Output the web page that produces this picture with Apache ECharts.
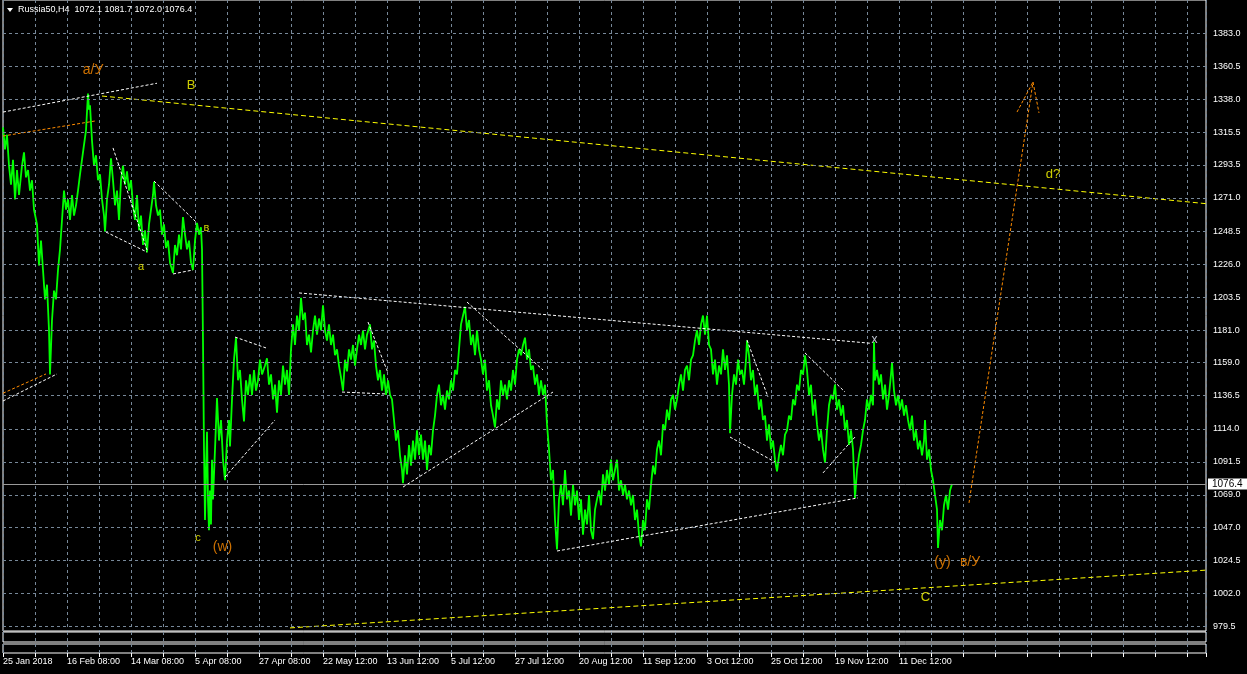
<!DOCTYPE html>
<html><head><meta charset="utf-8">
<script src="https://cdn.jsdelivr.net/npm/echarts@6/dist/echarts.min.js"></script>
<style>html,body{margin:0;padding:0;background:#000;}#c{width:1247px;height:674px;}</style>
</head><body><div id="c"></div>
<script>
// ---- data ----
const symbolName = 'Russia50,H4';
const lastBarOHLC = [1072.1, 1081.7, 1072.0, 1076.4];
const timeLabels = ['25 Jan 2018','16 Feb 08:00','14 Mar 08:00','5 Apr 08:00','27 Apr 08:00','22 May 12:00','13 Jun 12:00','5 Jul 12:00','27 Jul 12:00','20 Aug 12:00','11 Sep 12:00','3 Oct 12:00','25 Oct 12:00','19 Nov 12:00','11 Dec 12:00'];
const barsPerLabel = 64;
const barsPerGrid = 32;
const priceTicks = [979.5,1002.0,1024.5,1047.0,1069.0,1091.5,1114.0,1136.5,1159.0,1181.0,1203.5,1226.0,1248.5,1271.0,1293.5,1315.5,1338.0,1360.5,1383.0];
// [bar index, price] along the H4 price trace
const pricePath = [[0,1319],[2,1304],[4,1314],[6,1293],[8,1280],[10,1297],[12,1270],[14,1290],[16,1273],[19,1293],[21,1302],[23,1285],[25,1290],[27,1276],[29,1283],[31,1263],[34,1253],[36,1225],[38,1242],[40,1222],[42,1202],[44,1212],[46,1181],[47,1151],[49,1188],[51,1208],[53,1202],[55,1222],[57,1236],[59,1256],[61,1276],[63,1263],[65,1270],[67,1256],[69,1273],[71,1259],[73,1266],[75,1276],[77,1287],[79,1297],[81,1307],[83,1317],[85,1342],[86,1331],[87,1334],[89,1310],[91,1293],[93,1300],[95,1283],[97,1287],[99,1270],[101,1259],[102,1248],[104,1270],[106,1280],[108,1298],[110,1283],[112,1266],[114,1276],[116,1256],[118,1283],[120,1293],[122,1280],[124,1289],[126,1276],[128,1283],[130,1266],[132,1256],[134,1273],[136,1249],[138,1259],[140,1239],[142,1249],[144,1234],[146,1253],[148,1263],[150,1273],[151,1282],[153,1266],[155,1259],[157,1263],[159,1246],[161,1253],[163,1237],[165,1242],[167,1227],[170,1220],[172,1239],[174,1232],[176,1246],[178,1236],[180,1258],[182,1246],[184,1236],[186,1242],[188,1227],[190,1222],[192,1242],[194,1254],[196,1246],[198,1251],[199,1236],[200,1173],[201,1100],[202,1052],[203,1086],[204,1112],[205,1066],[206,1045],[207,1072],[208,1049],[209,1093],[210,1066],[212,1100],[214,1135],[216,1106],[218,1120],[220,1093],[222,1079],[224,1106],[226,1120],[227,1102],[229,1134],[231,1161],[233,1176],[235,1147],[237,1154],[239,1134],[241,1119],[243,1147],[245,1137],[247,1151],[249,1137],[251,1154],[253,1140],[255,1147],[257,1161],[259,1151],[262,1157],[264,1162],[266,1144],[268,1151],[270,1134],[272,1144],[274,1125],[276,1147],[278,1137],[280,1157],[282,1144],[284,1154],[286,1137],[288,1168],[290,1185],[292,1171],[294,1191],[296,1181],[298,1203],[300,1188],[302,1193],[304,1171],[306,1178],[308,1166],[310,1181],[312,1191],[314,1178],[316,1189],[318,1181],[320,1198],[322,1181],[324,1174],[326,1185],[328,1171],[330,1178],[332,1164],[334,1168],[336,1157],[338,1149],[340,1140],[342,1161],[344,1153],[346,1168],[348,1161],[350,1171],[352,1157],[354,1168],[356,1178],[358,1171],[360,1181],[362,1168],[364,1178],[367,1185],[369,1168],[371,1174],[373,1157],[375,1147],[377,1154],[379,1140],[381,1151],[383,1137],[385,1147],[387,1137],[389,1134],[391,1120],[393,1106],[395,1113],[397,1096],[399,1086],[400,1077],[402,1096],[404,1083],[406,1103],[408,1089],[410,1106],[412,1093],[414,1113],[416,1096],[418,1110],[420,1093],[422,1106],[424,1086],[426,1103],[428,1096],[430,1113],[432,1123],[434,1137],[436,1144],[438,1130],[440,1137],[442,1127],[444,1140],[446,1134],[448,1147],[450,1140],[452,1154],[454,1151],[456,1168],[458,1185],[460,1191],[462,1197],[464,1181],[466,1188],[468,1171],[470,1178],[472,1164],[474,1181],[476,1168],[478,1161],[480,1151],[482,1161],[484,1140],[486,1147],[488,1130],[490,1123],[492,1115],[494,1134],[496,1127],[498,1147],[500,1137],[502,1144],[504,1134],[506,1147],[508,1140],[510,1154],[512,1144],[514,1161],[516,1168],[518,1164],[520,1171],[522,1176],[524,1161],[526,1168],[528,1154],[530,1157],[532,1144],[534,1151],[536,1137],[538,1147],[540,1137],[542,1144],[544,1117],[546,1100],[548,1079],[550,1086],[552,1052],[554,1032],[556,1066],[558,1076],[560,1062],[562,1086],[564,1066],[566,1072],[568,1055],[570,1076],[572,1062],[574,1072],[576,1052],[578,1066],[580,1042],[582,1059],[584,1049],[586,1069],[588,1045],[590,1039],[592,1059],[594,1066],[596,1072],[598,1062],[600,1083],[602,1072],[604,1086],[606,1076],[608,1093],[610,1079],[612,1086],[614,1093],[616,1072],[618,1079],[620,1069],[622,1076],[624,1066],[626,1072],[628,1062],[630,1069],[632,1052],[634,1059],[636,1042],[638,1034],[640,1052],[642,1045],[644,1066],[646,1059],[648,1076],[650,1089],[652,1083],[654,1100],[656,1106],[658,1096],[660,1117],[662,1113],[664,1127],[666,1120],[668,1134],[670,1137],[672,1127],[674,1134],[676,1144],[678,1151],[680,1140],[682,1154],[684,1157],[686,1147],[688,1161],[690,1164],[692,1174],[694,1181],[696,1171],[698,1185],[700,1191],[702,1178],[704,1191],[706,1171],[708,1168],[710,1151],[712,1161],[714,1144],[716,1157],[718,1151],[720,1168],[722,1154],[724,1164],[726,1144],[727,1111],[729,1137],[731,1151],[733,1144],[735,1161],[737,1151],[739,1154],[741,1144],[743,1161],[744,1174],[746,1164],[748,1147],[750,1154],[752,1137],[754,1144],[756,1127],[758,1134],[760,1120],[762,1123],[764,1106],[766,1117],[768,1100],[770,1106],[772,1093],[774,1085],[776,1096],[778,1103],[780,1096],[782,1110],[784,1113],[786,1123],[788,1120],[790,1134],[792,1130],[794,1144],[796,1140],[798,1154],[800,1151],[802,1164],[804,1154],[806,1137],[808,1144],[810,1123],[812,1134],[814,1117],[816,1106],[818,1113],[820,1100],[822,1091],[824,1113],[826,1130],[828,1137],[830,1134],[832,1144],[834,1127],[836,1134],[838,1123],[840,1130],[842,1113],[844,1120],[846,1103],[848,1113],[850,1100],[852,1067],[854,1086],[856,1096],[858,1103],[860,1113],[862,1120],[864,1134],[866,1127],[868,1137],[870,1130],[871,1173],[872,1147],[874,1154],[876,1144],[878,1151],[880,1134],[882,1144],[884,1127],[886,1137],[888,1151],[889,1159],[891,1140],[893,1130],[895,1137],[897,1127],[899,1134],[901,1123],[903,1130],[905,1120],[907,1113],[909,1123],[911,1106],[913,1113],[915,1100],[917,1106],[919,1096],[921,1106],[922,1120],[924,1093],[926,1100],[928,1086],[930,1079],[932,1069],[934,1059],[935,1033],[937,1052],[939,1045],[941,1062],[943,1069],[945,1059],[947,1072],[949,1076.4]];
const totalBars = 1203;
// trend lines: [[bar, price], [bar, price]]
const yellowLines = [[[99,1340.3],[1203,1267.1]], [[287,978.6],[1203,1017.9]]];
const whiteLines = [
  [[0,1329.4],[154,1349.0]], [[0,1132.9],[54,1151.3]],
  [[110,1305.0],[144,1235.6]], [[103,1247.8],[144,1234.2]],
  [[151,1282.5],[194,1254.0]], [[170,1219.3],[190,1222.0]],
  [[232,1176.4],[263,1169.0]], [[222,1081.2],[272,1120.0]],
  [[296,1206.4],[867,1172.2]], [[365,1186.6],[385,1152.0]],
  [[339,1139.0],[382,1137.7]], [[464,1200.2],[540,1154.0]],
  [[400,1074.4],[550,1139.0]], [[554,1030.9],[855,1067.0]],
  [[744,1174.4],[765,1135.6]], [[727,1108.4],[772,1091.4]],
  [[802,1165.6],[842,1139.0]], [[820,1084.0],[852,1108.4]]
];
const orangeLines = [
  [[0,1138.2],[43,1151.3]], [[0,1313.1],[92,1323.3]],
  [[966,1063.6],[1030,1349.8]], [[1014,1329.4],[1030,1349.8]], [[1030,1349.8],[1036,1328.8]]
];
// wave labels: [bar, price, text]
const orangeWaveLabels = [[90,1358,'a/У'],[219.5,1033.3,'(w)'],[939.5,1023.1,'(y)'],[967,1023.1,'в/У']];
const yellowWaveLabels = [[188,1347.5,'В'],[922.5,999.6,'C'],[1050,1286.9,'d?']];
const yellowSubLabels = [[203.5,1250.6,'в'],[138,1224,'a'],[195,1039.8,'c']];
const whitePointLabels = [[871.5,1174.7,'x']];

// ---- chart ----
const font = '"Liberation Sans", Arial, sans-serif';
const gridCol = '#778899';
const chart = echarts.init(document.getElementById('c'));

function xAxisFor(g) {
  return {
    type: 'value', gridIndex: g, min: 0, max: totalBars, interval: barsPerGrid,
    axisLine: { show: false },
    axisTick: { show: g === 2, length: 4, lineStyle: { color: '#fff' } },
    axisLabel: {
      show: g === 2, color: '#fff', fontSize: 9, fontFamily: font, align: 'left', margin: 4,
      formatter: v => (v % barsPerLabel === 0 && timeLabels[v / barsPerLabel]) ? timeLabels[v / barsPerLabel] : ''
    },
    splitLine: { show: true, lineStyle: { color: gridCol, type: [3, 3], width: 1 } }
  };
}
function lineSeries(pts, color, dash) {
  return {
    type: 'line', xAxisIndex: 0, yAxisIndex: 0, data: pts, showSymbol: false, silent: true, z: 4,
    lineStyle: { color: color, width: 1, type: dash }
  };
}
function labelSeries(arr, color, size) {
  return {
    type: 'scatter', xAxisIndex: 0, yAxisIndex: 0, data: arr, symbolSize: 1, silent: true, z: 5,
    itemStyle: { color: 'transparent' },
    label: { show: true, position: 'inside', color: color, fontSize: size, fontFamily: font, formatter: p => p.data[2] }
  };
}

const series = [
  { // grid lines + current price line
    type: 'line', data: [], xAxisIndex: 0, yAxisIndex: 0, z: 1, silent: true,
    markLine: {
      silent: true, symbol: 'none', animation: false,
      data: priceTicks.map(v => ({ yAxis: v, lineStyle: { color: gridCol, type: [3, 3], width: 1 }, label: { show: false } }))
        .concat([{ yAxis: lastBarOHLC[3], lineStyle: { color: '#9a9a9a', type: 'solid', width: 1 },
          label: { show: true, position: 'end', distance: 2, formatter: lastBarOHLC[3].toFixed(1), color: '#000', backgroundColor: '#fff', padding: [1, 5, 0, 4], fontSize: 10, fontFamily: font } }])
    }
  },
  {
    type: 'line', xAxisIndex: 0, yAxisIndex: 0, data: pricePath, showSymbol: false, z: 3, silent: true,
    lineStyle: { color: '#00ff00', width: 1.8 }
  }
];
yellowLines.forEach(l => series.push(lineSeries(l, '#ffff00', [5, 3])));
whiteLines.forEach(l => series.push(lineSeries(l, '#ffffff', [3, 2])));
orangeLines.forEach(l => series.push(lineSeries(l, '#ff8c00', [3, 2])));
series.push(labelSeries(orangeWaveLabels, '#ff8c00', 14));
series.push(labelSeries(yellowWaveLabels, '#ffff00', 13));
series.push(labelSeries(yellowSubLabels, '#ffff00', 11));
series.push(labelSeries(whitePointLabels, '#e8f0ff', 12));

chart.setOption({
  backgroundColor: '#000',
  animation: false,
  title: {
    text: symbolName + '  ' + lastBarOHLC.map(v => v.toFixed(1)).join(' '),
    left: 18, top: 5, padding: 0,
    textStyle: { color: '#fff', fontSize: 9, fontWeight: 'normal', fontFamily: font }
  },
  graphic: [{ type: 'polygon', shape: { points: [[7, 8], [13, 8], [10, 12]] }, style: { fill: '#fff' }, z: 10 }],
  grid: [
    { left: 3, right: 41, top: 0, height: 631, show: true, borderColor: '#fff', borderWidth: 1 },
    { left: 3, right: 41, top: 632, height: 10, show: true, borderColor: '#fff', borderWidth: 1 },
    { left: 3, right: 41, top: 644, height: 9, show: true, borderColor: '#fff', borderWidth: 1 }
  ],
  xAxis: [xAxisFor(0), xAxisFor(1), xAxisFor(2)],
  yAxis: [
    {
      type: 'value', gridIndex: 0, position: 'right', min: 976.5, max: 1405.6,
      axisLine: { show: false },
      axisTick: { show: true, customValues: priceTicks, length: 3, lineStyle: { color: '#fff' } },
      axisLabel: { customValues: priceTicks, formatter: v => v.toFixed(1), color: '#fff', fontSize: 9, fontFamily: font, margin: 7 },
      splitLine: { show: false }
    },
    { type: 'value', gridIndex: 1, show: false },
    { type: 'value', gridIndex: 2, show: false }
  ],
  series: series
});
</script>
</body></html>
